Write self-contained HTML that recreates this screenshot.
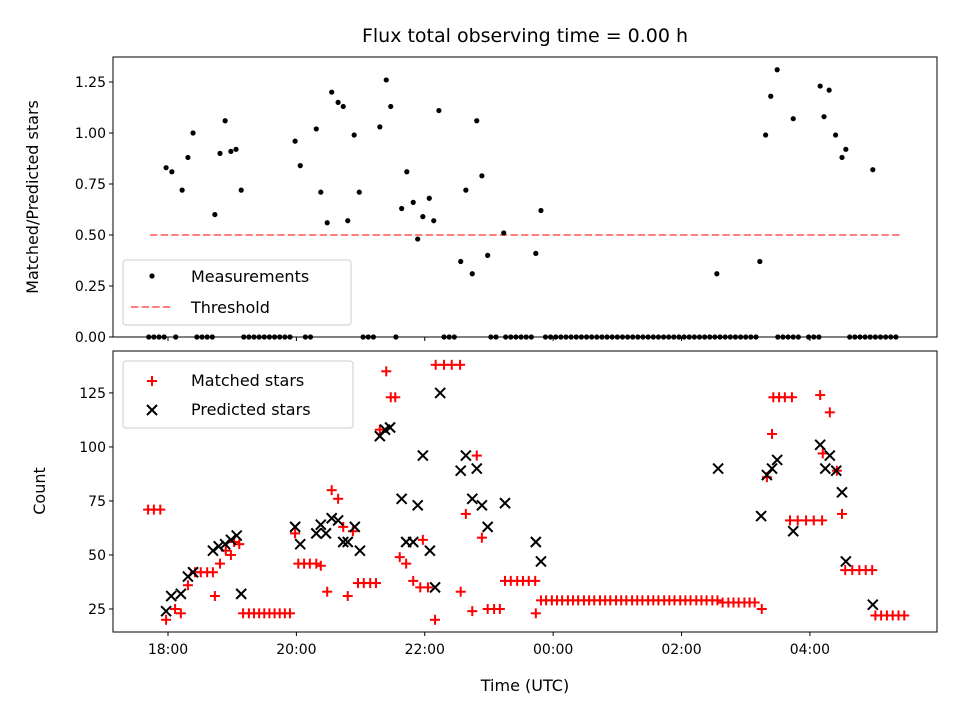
<!DOCTYPE html>
<html><head><meta charset="utf-8"><style>
html,body{margin:0;padding:0;background:#fff}
svg{display:block}
text{font-family:"DejaVu Sans","Liberation Sans",sans-serif;fill:#000}
</style></head><body>
<svg id="chart" width="960" height="720" viewBox="0 0 960 720" xmlns="http://www.w3.org/2000/svg">
<text x="525" y="42" font-size="19" text-anchor="middle">Flux total observing time = 0.00 h</text>
<g id="topPanel"></g>
<g id="botPanel"></g>
<text transform="translate(38,197) rotate(-90)" font-size="16" text-anchor="middle">Matched/Predicted stars</text>
<text transform="translate(45,491) rotate(-90)" font-size="16" text-anchor="middle">Count</text>
<text x="525" y="691" font-size="16" text-anchor="middle">Time (UTC)</text>
</svg>
<script>
const xTicks=[18,20,22,24,26,28];
const xTickLabels=["18:00","20:00","22:00","00:00","02:00","04:00"];
const topTicks=[0,0.25,0.5,0.75,1.0,1.25];
const topTickLabels=["0.00","0.25","0.50","0.75","1.00","1.25"];
const botTicks=[25,50,75,100,125];
const threshold=0.5;
const thrRange=[17.72,29.4];
const measT=[17.97,18.06,18.22,18.31,18.39,18.73,18.81,18.89,18.98,19.06,19.14,19.98,20.06,20.31,20.38,20.48,20.55,20.65,20.73,20.80,20.90,20.98,21.30,21.40,21.47,21.64,21.72,21.82,21.89,21.97,22.07,22.14,22.22,22.56,22.64,22.74,22.81,22.89,22.98,23.23,23.73,23.81,26.55,27.22,27.31,27.39,27.49,27.74,28.16,28.22,28.30,28.40,28.50,28.56,28.98];
const measV=[0.83,0.81,0.72,0.88,1.00,0.60,0.90,1.06,0.91,0.92,0.72,0.96,0.84,1.02,0.71,0.56,1.20,1.15,1.13,0.57,0.99,0.71,1.03,1.26,1.13,0.63,0.81,0.66,0.48,0.59,0.68,0.57,1.11,0.37,0.72,0.31,1.06,0.79,0.40,0.51,0.41,0.62,0.31,0.37,0.99,1.18,1.31,1.07,1.23,1.08,1.21,0.99,0.88,0.92,0.82];
const zeroT=[17.70,17.78,17.86,17.94,18.12,18.45,18.53,18.61,18.69,19.18,19.26,19.34,19.42,19.50,19.58,19.66,19.74,19.82,19.90,20.14,20.22,21.04,21.12,21.20,21.55,22.30,22.38,22.46,23.03,23.11,23.26,23.34,23.42,23.50,23.58,23.66,23.88,23.96,24.04,24.12,24.20,24.28,24.36,24.44,24.52,24.60,24.68,24.76,24.84,24.92,25.00,25.08,25.16,25.24,25.32,25.40,25.48,25.56,25.64,25.72,25.80,25.88,25.96,26.04,26.12,26.20,26.28,26.36,26.44,26.52,26.60,26.68,26.76,26.84,26.92,27.00,27.08,27.16,27.50,27.58,27.66,27.74,27.82,27.98,28.06,28.14,28.62,28.70,28.78,28.86,28.94,29.02,29.10,29.18,29.26,29.34];
const matchT=[17.69,17.78,17.88,17.97,18.11,18.20,18.31,18.42,18.51,18.61,18.70,18.73,18.81,18.90,18.98,19.03,19.11,19.17,19.26,19.34,19.42,19.50,19.58,19.66,19.74,19.82,19.90,19.98,20.03,20.12,20.21,20.31,20.38,20.48,20.55,20.65,20.73,20.80,20.88,20.96,21.05,21.15,21.24,21.30,21.40,21.47,21.54,21.61,21.71,21.82,21.93,21.97,22.05,22.16,22.17,22.30,22.42,22.55,22.56,22.64,22.74,22.81,22.89,22.98,23.08,23.17,23.25,23.34,23.44,23.53,23.62,23.72,23.73,23.81,23.89,23.98,24.06,24.14,24.23,24.31,24.39,24.48,24.56,24.64,24.73,24.81,24.89,24.98,25.06,25.14,25.23,25.31,25.39,25.48,25.56,25.64,25.73,25.81,25.89,25.98,26.06,26.14,26.23,26.31,26.39,26.48,26.56,26.64,26.73,26.81,26.89,26.98,27.06,27.14,27.25,27.33,27.41,27.43,27.52,27.61,27.72,27.69,27.81,27.94,28.06,28.19,28.16,28.20,28.31,28.42,28.50,28.55,28.66,28.77,28.87,28.97,29.02,29.11,29.20,29.29,29.38,29.47];
const matchV=[71,71,71,20,25,23,36,42,42,42,42,31,46,52,50,56,55,23,23,23,23,23,23,23,23,23,23,60,46,46,46,46,45,33,80,76,63,31,61,37,37,37,37,108,135,123,123,49,46,38,35,57,35,20,138,138,138,138,33,69,24,96,58,25,25,25,38,38,38,38,38,38,23,29,29,29,29,29,29,29,29,29,29,29,29,29,29,29,29,29,29,29,29,29,29,29,29,29,29,29,29,29,29,29,29,29,29,28,28,28,28,28,28,28,25,86,106,123,123,123,123,66,66,66,66,66,124,97,116,89,69,43,43,43,43,43,22,22,22,22,22,22];
const predT=[17.97,18.05,18.20,18.31,18.39,18.70,18.79,18.89,18.98,19.07,19.14,19.98,20.06,20.31,20.38,20.46,20.55,20.65,20.73,20.80,20.91,20.99,21.30,21.38,21.46,21.64,21.71,21.82,21.89,21.97,22.08,22.16,22.24,22.56,22.64,22.74,22.81,22.89,22.98,23.25,23.73,23.81,26.57,27.24,27.33,27.41,27.49,27.74,28.16,28.24,28.31,28.41,28.50,28.56,28.98];
const predV=[24,31,32,40,42,52,54,55,57,59,32,63,55,60,64,60,67,66,56,56,63,52,105,108,109,76,56,56,73,96,52,35,125,89,96,76,90,73,63,74,56,47,90,68,87,90,94,61,101,90,96,89,79,47,27];

const NS="http://www.w3.org/2000/svg";
const L=113,R=937;
const xd=[17.143,29.98];
const X=t=>L+(t-xd[0])/(xd[1]-xd[0])*(R-L);
const TT=57,TB=337,BT=351,BB=632;
const Yt=v=>TB-(v-0)/(1.3725)*(TB-TT);
const Yb=v=>BB-(v-14.35)/(144.4-14.35)*(BB-BT);
function mk(tag,attrs,parent){const e=document.createElementNS(NS,tag);for(const k in attrs)e.setAttribute(k,attrs[k]);parent.appendChild(e);return e;}
const topG=document.getElementById('topPanel'),botG=document.getElementById('botPanel');

let th=mk('line',{x1:X(thrRange[0]),x2:X(thrRange[1]),y1:Yt(threshold),y2:Yt(threshold),stroke:'#ff7f7f','stroke-width':2,'stroke-dasharray':'7.4,3.2'},topG);


measT.forEach((t,i)=>{const c=mk('circle',{cx:X(t),cy:Yt(measV[i]),r:2.6,fill:'#000'},topG);

});
zeroT.forEach(t=>{const c=mk('circle',{cx:X(t),cy:Yt(0),r:2.6,fill:'#000'},topG);

});

function plus(cx,cy,p,name){const g=mk('g',{stroke:'#f00','stroke-width':2},p);


mk('line',{x1:cx-5,x2:cx+5,y1:cy,y2:cy},g);mk('line',{x1:cx,x2:cx,y1:cy-5,y2:cy+5},g);}
function cross(cx,cy,p,name){const g=mk('g',{stroke:'#000','stroke-width':2},p);


mk('line',{x1:cx-5,x2:cx+5,y1:cy-5,y2:cy+5},g);mk('line',{x1:cx-5,x2:cx+5,y1:cy+5,y2:cy-5},g);}
matchT.forEach((t,i)=>plus(X(t),Yb(matchV[i]),botG,'matched-star-marker'));
predT.forEach((t,i)=>cross(X(t),Yb(predV[i]),botG,'predicted-star-marker'));

function frame(y0,y1,p,name){const r=mk('rect',{x:L,y:y0,width:R-L,height:y1-y0,fill:'none',stroke:'#000','stroke-width':1},p);

}
frame(TT,TB,topG,'top-axes-frame');frame(BT,BB,botG,'bottom-axes-frame');
xTicks.forEach((t,i)=>{
mk('line',{x1:X(t),x2:X(t),y1:TB,y2:TB+4,stroke:'#000'},topG);
mk('line',{x1:X(t),x2:X(t),y1:BB,y2:BB+4,stroke:'#000'},botG);
const tx=mk('text',{x:X(t),y:BB+22,'font-size':14,'text-anchor':'middle'},botG);tx.textContent=xTickLabels[i];

});
topTicks.forEach((v,i)=>{mk('line',{x1:L-4,x2:L,y1:Yt(v),y2:Yt(v),stroke:'#000'},topG);
const tx=mk('text',{x:L-7,y:Yt(v)+5,'font-size':14,'text-anchor':'end'},topG);tx.textContent=topTickLabels[i];

});
botTicks.forEach(v=>{mk('line',{x1:L-4,x2:L,y1:Yb(v),y2:Yb(v),stroke:'#000'},botG);
const tx=mk('text',{x:L-7,y:Yb(v)+5,'font-size':14,'text-anchor':'end'},botG);tx.textContent=String(v);

});

function legendBox(x,y,w,h,p,name){const r=mk('rect',{x:x,y:y,width:w,height:h,rx:3,fill:'rgba(255,255,255,0.8)',stroke:'#ccc'},p);

}
legendBox(123,260,228,65,topG,'top-legend');
let c=mk('circle',{cx:152,cy:276,r:2.6,fill:'#000'},topG);


let lt=mk('text',{x:191,y:282,'font-size':16},topG);lt.textContent='Measurements';


let ll=mk('line',{x1:131,x2:173,y1:307,y2:307,stroke:'#ff7f7f','stroke-width':2,'stroke-dasharray':'7.4,3.2'},topG);


lt=mk('text',{x:191,y:313,'font-size':16},topG);lt.textContent='Threshold';


legendBox(123,361,230,67,botG,'bottom-legend');
plus(152,381,botG,'legend-matched-marker');
lt=mk('text',{x:191,y:386,'font-size':16},botG);lt.textContent='Matched stars';


cross(152,410,botG,'legend-predicted-marker');
lt=mk('text',{x:191,y:415,'font-size':16},botG);lt.textContent='Predicted stars';


</script>
</body></html>
